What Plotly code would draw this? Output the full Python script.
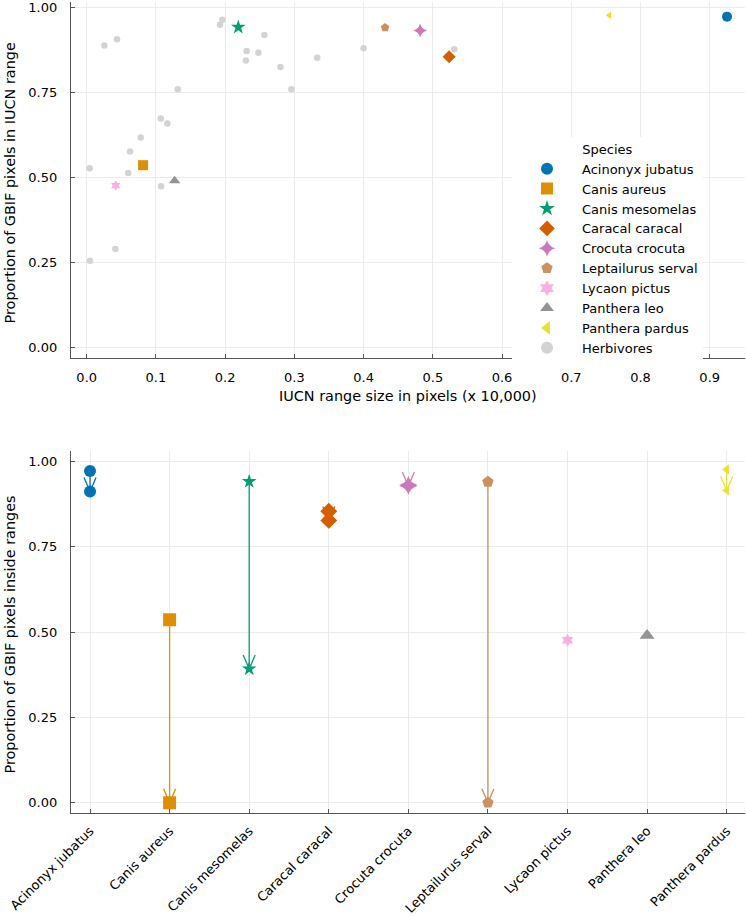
import plotly.graph_objects as go

# ---------------- data ----------------
species = ["Acinonyx jubatus", "Canis aureus", "Canis mesomelas", "Caracal caracal",
           "Crocuta crocuta", "Leptailurus serval", "Lycaon pictus", "Panthera leo",
           "Panthera pardus"]
colors = ["#0173B2", "#DE8F05", "#029E73", "#D55E00", "#CC78BC", "#CA9161",
          "#FBAFE4", "#949494", "#ECE133"]
symbols = ["circle", "square", "star", "diamond", "star-diamond", "pentagon",
           "hexagram", "triangle-up", "triangle-left"]

# top panel: IUCN range size (x 10,000 px) vs proportion of GBIF pixels in range
range_size = [0.925, 0.0814, 0.219, 0.5236, 0.4817, 0.431, 0.0419, 0.127, 0.755]
prop_in_range = [0.972, 0.536, 0.941, 0.854, 0.931, 0.940, 0.476, 0.490, 0.976]

herb_range = [0.0255, 0.0438, 0.0043, 0.0048, 0.0414, 0.060, 0.0626, 0.078, 0.107,
              0.1165, 0.1074, 0.1315, 0.1926, 0.196, 0.231, 0.230, 0.248, 0.2567,
              0.280, 0.2957, 0.333, 0.400, 0.531]
herb_prop = [0.887, 0.906, 0.527, 0.255, 0.290, 0.513, 0.576, 0.617, 0.673,
             0.658, 0.474, 0.759, 0.948, 0.963, 0.871, 0.843, 0.866, 0.918,
             0.824, 0.759, 0.851, 0.879, 0.876]

# bottom panel: change in proportion inside ranges (start -> end); None = no change shown
prop_start = prop_in_range
prop_end = [0.912, 0.0, 0.392, 0.827, 0.928, 0.0, None, None, 0.915]

# ---------------- layout constants ----------------
FONT = "DejaVu Sans"
GRID = "#ebebeb"
SPINE = "#555555"
W, H = 746, 916
M_L, M_R, M_T, M_B = 71, 1, 0, 98
PW, PH = W - M_L - M_R, H - M_T - M_B          # plot-area size in px
TOP_DOM = [1 - 359 / PH, 1]
BOT_DOM = [0, (PH - 453) / PH]
X2_RANGE = [0.761, 9.23]
Y2_RANGE = [-0.03, 1.03]

# pixel -> data conversion for the bottom panel (for arrow heads)
x2_per_px = (X2_RANGE[1] - X2_RANGE[0]) / PW
y2_per_px = (Y2_RANGE[1] - Y2_RANGE[0]) / (PH * (BOT_DOM[1] - BOT_DOM[0]))
HEAD_LEN_PX, HEAD_HALF_PX = 14, 6

fig = go.Figure()

# ---------------- top panel ----------------
fig.add_trace(go.Scatter(
    x=herb_range, y=herb_prop, mode="markers", name="Herbivores",
    marker=dict(color="#D3D3D3", size=6.5, symbol="circle", line=dict(width=0)),
    xaxis="x", yaxis="y", legendrank=2000, cliponaxis=False))

top_sizes = [10, 10, 11, 10, 10, 9, 8, 10, 7]
for i, sp in enumerate(species):
    fig.add_trace(go.Scatter(
        x=[range_size[i]], y=[prop_in_range[i]], mode="markers", name=sp,
        marker=dict(color=colors[i], size=top_sizes[i], symbol=symbols[i], line=dict(width=0)),
        xaxis="x", yaxis="y", legendrank=1000 + i, cliponaxis=False))

# ---------------- bottom panel ----------------
positions = list(range(1, len(species) + 1))

# arrows (shaft + open V head), drawn beneath markers
for i, sp in enumerate(species):
    if prop_end[i] is None:
        continue
    p, s, e = positions[i], prop_start[i], prop_end[i]
    sign = 1 if s >= e else -1
    dx = HEAD_HALF_PX * x2_per_px
    dy = HEAD_LEN_PX * y2_per_px * sign
    fig.add_trace(go.Scatter(
        x=[p, p, None, p - dx, p, p + dx],
        y=[s, e, None, e + dy, e, e + dy],
        mode="lines", line=dict(color=colors[i], width=1.3), showlegend=False,
        hoverinfo="skip", xaxis="x2", yaxis="y2", cliponaxis=False))

bot_sizes = [12, 13, 11, 13, 13, 12, 10, 13, 9]
for i, sp in enumerate(species):
    ys = [prop_start[i]] if prop_end[i] is None else [prop_start[i], prop_end[i]]
    fig.add_trace(go.Scatter(
        x=[positions[i]] * len(ys), y=ys, mode="markers", showlegend=False,
        marker=dict(color=colors[i], size=bot_sizes[i], symbol=symbols[i], line=dict(width=0)),
        xaxis="x2", yaxis="y2", cliponaxis=False))

# axis titles as annotations for precise placement
GUIDE = dict(family=FONT, size=14.4, color="#000")
annotations = [
    dict(text="IUCN range size in pixels (x 10,000)", xref="paper", yref="paper",
         x=0.5, y=(PH - 397) / PH, xanchor="center", yanchor="middle",
         showarrow=False, font=GUIDE),
    dict(text="Proportion of GBIF pixels in IUCN range", xref="paper", yref="paper",
         x=(10 - M_L) / PW, y=(PH - 183) / PH, xanchor="center", yanchor="middle",
         textangle=-90, showarrow=False, font=GUIDE),
    dict(text="Proportion of GBIF pixels inside ranges", xref="paper", yref="paper",
         x=(10 - M_L) / PW, y=(PH - 638) / PH, xanchor="center", yanchor="middle",
         textangle=-90, showarrow=False, font=GUIDE),
]

axis_common = dict(showgrid=True, gridcolor=GRID, gridwidth=1, zeroline=False,
                   showline=True, linecolor=SPINE, linewidth=1.3,
                   ticks="inside", ticklen=4, tickcolor=SPINE, tickwidth=1,
                   tickfont=dict(family=FONT, size=13, color="#000"), mirror=False,
                   ticklabeloverflow="allow")

fig.update_layout(
    width=W, height=H,
    margin=dict(l=M_L, r=M_R, t=M_T, b=M_B),
    paper_bgcolor="white", plot_bgcolor="white",
    font=dict(family=FONT, size=13, color="#000"),
    xaxis=dict(domain=[0, 1], anchor="y", range=[-0.0227, 0.951],
               tickvals=[0, 0.1, 0.2, 0.3, 0.4, 0.5, 0.6, 0.7, 0.8, 0.9],
               tickformat=".1f", ticklabelstandoff=7, **axis_common),
    yaxis=dict(domain=TOP_DOM, anchor="x", range=[-0.03, 1.015],
               tickvals=[0, 0.25, 0.5, 0.75, 1.0], tickformat=".2f",
               ticklabelstandoff=10, **axis_common),
    xaxis2=dict(domain=[0, 1], anchor="y2", range=X2_RANGE,
                tickvals=positions, ticktext=species, tickangle=-45,
                ticklabelstandoff=4, **axis_common),
    yaxis2=dict(domain=BOT_DOM, anchor="x2", range=Y2_RANGE,
                tickvals=[0, 0.25, 0.5, 0.75, 1.0], tickformat=".2f",
                ticklabelstandoff=10, **axis_common),
    legend=dict(x=(512 - M_L) / PW, xanchor="left", y=(PH - 136) / PH, yanchor="top",
                bgcolor="white", borderwidth=0, itemsizing="constant", itemwidth=60,
                font=dict(family=FONT, size=13, color="#000"),
                title=dict(text="Species", side="top center",
                           font=dict(family=FONT, size=13, color="#000")),
                tracegroupgap=0),
    annotations=annotations,
    showlegend=True,
)

fig.write_html("out.html", config={"displayModeBar": False},
               post_script="document.body.style.margin='0';")
